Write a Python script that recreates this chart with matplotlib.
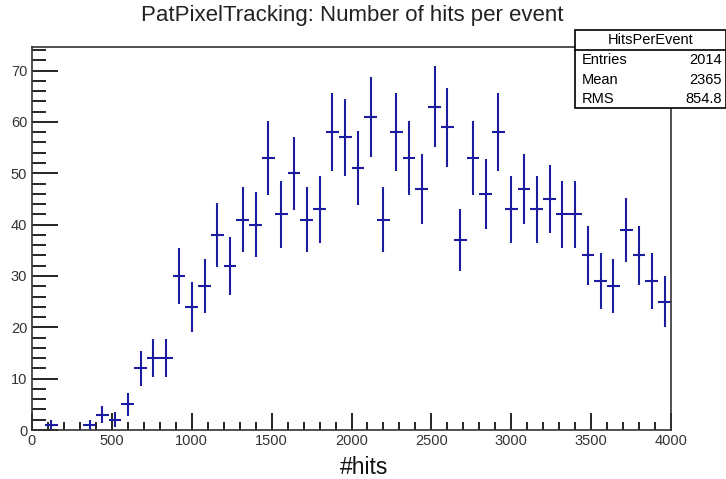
import numpy as np
import matplotlib.pyplot as plt
from matplotlib.ticker import MultipleLocator
from matplotlib.patches import Rectangle

plt.rcParams['font.family'] = ['Liberation Sans', 'DejaVu Sans']

# histogram: 50 bins of width 80 between 0 and 4000
bin_width = 80
bin_centers = np.arange(40, 4000, bin_width)
counts = [0, 1, 0, 0, 1, 3, 2, 5, 12, 14,
          14, 30, 24, 28, 38, 32, 41, 40, 53, 42,
          50, 41, 43, 58, 57, 51, 61, 41, 58, 53,
          47, 63, 59, 37, 53, 46, 58, 43, 47, 43,
          45, 42, 42, 34, 29, 28, 39, 34, 29, 25]
stat_names = ['Entries', 'Mean', 'RMS']
stat_values = ['2014', '2365', '854.8']

counts = np.array(counts, dtype=float)
errors = np.sqrt(counts)
mask = counts > 0

fig = plt.figure(figsize=(7.26, 4.79), dpi=100)
ax = fig.add_axes([32 / 726, 1 - 430 / 479, (671 - 32) / 726, (430 - 47) / 479])

col = '#1c1ca0'
ax.errorbar(bin_centers[mask], counts[mask], yerr=errors[mask], xerr=bin_width / 2,
            fmt='none', ecolor=col, elinewidth=1.5, capsize=0)

ax.set_xlim(0, 4000)
ax.set_ylim(0, 74.6)
ax.xaxis.set_major_locator(MultipleLocator(500))
ax.xaxis.set_minor_locator(MultipleLocator(100))
ax.yaxis.set_major_locator(MultipleLocator(10))
ax.yaxis.set_minor_locator(MultipleLocator(2))
ax.tick_params(axis='x', which='major', direction='in', length=12, width=1.2,
               labelsize=10.5, labelcolor='#333333', pad=3)
ax.tick_params(axis='x', which='minor', direction='in', length=6, width=1.2)
ax.tick_params(axis='y', which='major', direction='in', length=19, width=1.2,
               labelsize=10.5, labelcolor='#333333', pad=3.5)
ax.tick_params(axis='y', which='minor', direction='in', length=10, width=1.2)
for s in ax.spines.values():
    s.set_linewidth(1.2)
    s.set_color('#333333')

fig.text(352 / 726, 1 - 16 / 479, 'PatPixelTracking: Number of hits per event',
         ha='center', va='center', fontsize=16, color='#222222')
fig.text(364 / 726, 1 - 467 / 479, '#hits', ha='center', va='center',
         fontsize=16.5, color='#111111')

# stats box
x0, x1, y0, y1 = 575 / 726, 1.0, 1 - 108 / 479, 1 - 30 / 479
fig.patches.append(Rectangle((x0, y0), x1 - x0, y1 - y0, transform=fig.transFigure,
                             facecolor='white', edgecolor='black', lw=1.2, zorder=5))
line_y = 1 - 50 / 479
fig.add_artist(plt.Line2D([x0, x1], [line_y, line_y], transform=fig.transFigure,
                          color='black', lw=1.2, zorder=6))
fig.text((x0 + x1) / 2, 1 - 40 / 479, 'HitsPerEvent', ha='center', va='center',
         fontsize=10.5, zorder=7)
for i, (n, v) in enumerate(zip(stat_names, stat_values)):
    yy = 1 - (60 + i * 19.5) / 479
    fig.text(582 / 726, yy, n, ha='left', va='center', fontsize=10.5, zorder=7)
    fig.text(722 / 726, yy, v, ha='right', va='center', fontsize=10.5, zorder=7)

fig.savefig('out.png', dpi=100)
